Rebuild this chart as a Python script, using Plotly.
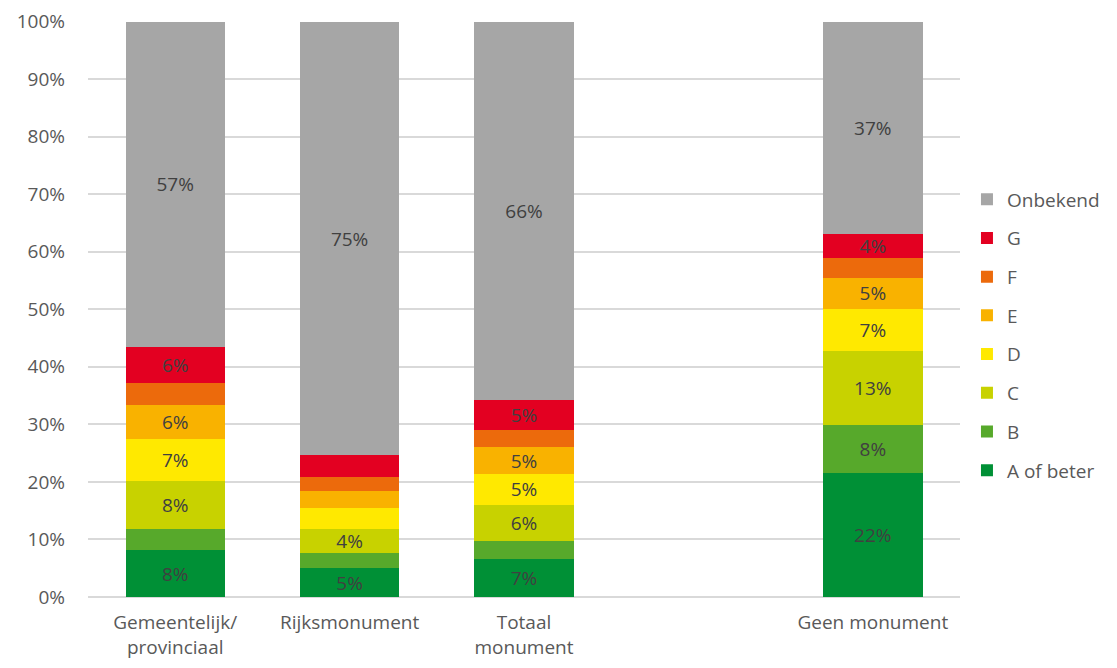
import plotly.graph_objects as go

CATEGORIES = ["Gemeentelijk/<br>provinciaal", "Rijksmonument", "Totaal<br>monument", " ", "Geen monument"]
SERIES = ["A of beter", "B", "C", "D", "E", "F", "G", "Onbekend"]
Y_TICKS = [0, 10, 20, 30, 40, 50, 60, 70, 80, 90, 100]

# share per label class, in %, per category (None = empty slot)
A_OF_BETER = [8.1, 5.0, 6.6, None, 21.6]
B = [3.8, 2.7, 3.2, None, 8.3]
C = [8.3, 4.2, 6.2, None, 12.8]
D = [7.3, 3.5, 5.4, None, 7.4]
E = [5.8, 3.0, 4.6, None, 5.4]
F = [3.9, 2.4, 3.1, None, 3.5]
G = [6.2, 3.8, 5.2, None, 4.1]
ONBEKEND = [56.6, 75.4, 65.7, None, 36.9]

VALUES = [A_OF_BETER, B, C, D, E, F, G, ONBEKEND]

COLORS = {
    "A of beter": "#009036",
    "B": "#57a92b",
    "C": "#c8d200",
    "D": "#ffe900",
    "E": "#f9b200",
    "F": "#ec6a0c",
    "G": "#e30021",
    "Onbekend": "#a6a6a6",
}

FONT = "Open Sans, Liberation Sans, Arial, sans-serif"
TEXT_COLOR = "#595959"
FS = 19


def _labels(vals):
    # only segments of about 4% or more carry a label
    return [f"{round(v)}%" if v is not None and v >= 4 else "" for v in vals]


fig = go.Figure()
for i, (name, vals) in enumerate(zip(SERIES, VALUES)):
    fig.add_trace(go.Bar(
        name=name,
        x=CATEGORIES,
        y=vals,
        marker=dict(color=COLORS[name], line=dict(width=0)),
        text=_labels(vals),
        textposition="inside",
        insidetextanchor="middle",
        textfont=dict(color="#404040", size=FS, family=FONT),
        legendgroup=f"g{i}",
        legendrank=len(SERIES) - i,
        hoverinfo="skip",
    ))

# page body adds an 8px margin, so the figure is 16px smaller than the window
fig.update_layout(
    barmode="stack",
    bargap=0.43,
    width=1101,
    height=652,
    paper_bgcolor="white",
    plot_bgcolor="white",
    font=dict(family=FONT, color=TEXT_COLOR, size=FS),
    margin=dict(l=80, r=149, t=13, b=63),
    uniformtext=dict(minsize=FS, mode="show"),
    showlegend=True,
    legend=dict(
        traceorder="grouped",
        tracegroupgap=11,
        xref="container",
        x=0.871, xanchor="left",
        y=0.455, yanchor="middle",
        font=dict(size=FS, color=TEXT_COLOR, family=FONT),
        itemwidth=30,
    ),
    xaxis=dict(
        type="category",
        categoryorder="array",
        categoryarray=CATEGORIES,
        showgrid=False,
        showline=False,
        ticks="",
        ticklabelstandoff=12,
        automargin=False,
        tickfont=dict(size=FS, color=TEXT_COLOR),
    ),
    yaxis=dict(
        range=[0, 100.1],
        tickmode="array",
        tickvals=Y_TICKS,
        ticktext=[f"{t}%" for t in Y_TICKS],
        gridcolor="#d9d9d9",
        gridwidth=1.5,
        zeroline=True,
        zerolinecolor="#d9d9d9",
        zerolinewidth=1.5,
        showline=False,
        ticklabelstandoff=22,
        ticklabeloverflow="allow",
        automargin=False,
        tickfont=dict(size=FS, color=TEXT_COLOR),
    ),
)

fig.write_html("out.html")
